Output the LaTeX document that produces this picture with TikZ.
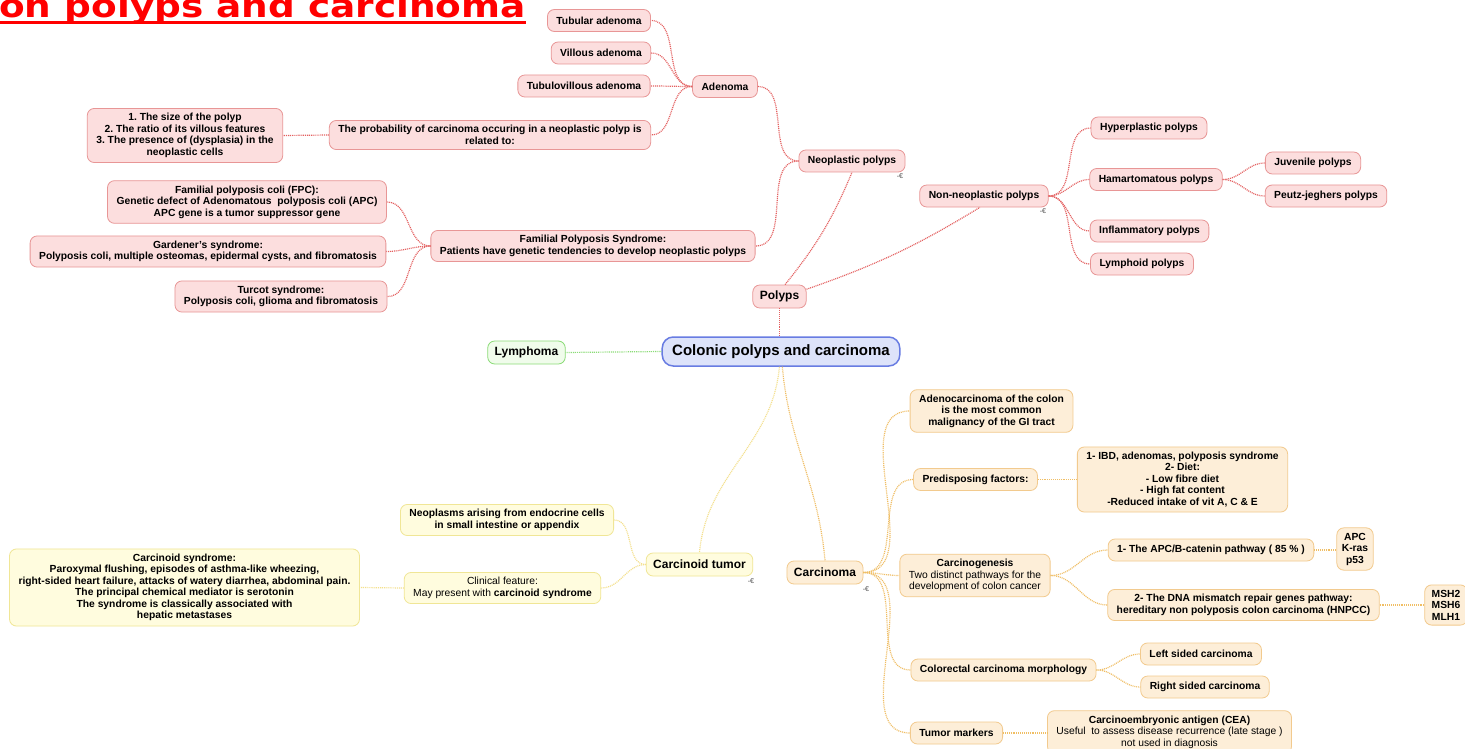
\documentclass[tikz,border=0pt]{standalone}
\usepackage{fontspec}
\setmainfont{Liberation Sans}
\newfontfamily\titlefont{DejaVu Sans}
\definecolor{polfill}{RGB}{252,222,222}
\definecolor{poldraw}{RGB}{232,150,150}
\definecolor{pollink}{RGB}{228,96,96}
\definecolor{cenfill}{RGB}{221,227,250}
\definecolor{cendraw}{RGB}{104,124,226}
\definecolor{lymfill}{RGB}{240,252,235}
\definecolor{lymdraw}{RGB}{140,220,120}
\definecolor{cidfill}{RGB}{255,252,222}
\definecolor{ciddraw}{RGB}{240,230,150}
\definecolor{cidlink}{RGB}{244,224,140}
\definecolor{carfill}{RGB}{253,238,216}
\definecolor{cardraw}{RGB}{242,202,142}
\definecolor{carlink}{RGB}{240,190,100}
\begin{document}
\begin{tikzpicture}[
		x = 1pt, y = -1pt,
		box/.style = {rounded corners = 7pt, inner xsep = 9pt, inner ysep = 5pt, minimum height = 22pt, align = center, line width = 0.8pt, font = \bfseries\fontsize{10.3}{11.5}\selectfont},
		lvlone/.style = {inner xsep = 7pt, minimum height = 23pt, font = \bfseries\fontsize{12}{14}\selectfont},
		pbox/.style = {box, fill = polfill, draw = poldraw},
		gbox/.style = {box, fill = lymfill, draw = lymdraw},
		ybox/.style = {box, fill = cidfill, draw = ciddraw},
		obox/.style = {box, fill = carfill, draw = cardraw},
		plain/.style = {font = \fontsize{10.3}{11.5}\selectfont},
		link/.style = {dash pattern = on 1pt off 0.9pt, line width = 1.2pt},
		plink/.style = {link, draw = pollink},
		glink/.style = {link, draw = lymdraw},
		ylink/.style = {link, draw = cidlink},
		olink/.style = {link, draw = carlink},
		collapse/.style = {inner sep = 0pt, text = black!70, font = \fontsize{7}{7}\selectfont}
	]
		\fill[white] (0, 0) rectangle (1465, 749);
		\useasboundingbox (0, 0) rectangle (1465, 749);
		\clip (0, 0) rectangle (1465, 749);

		\node[anchor = base west, inner sep = 0pt, text = red, xscale = 1.17, transform shape, font = \titlefont\bfseries\fontsize{32}{32}\selectfont] (title) at (-1, 18) {on polyps and carcinoma};
		\draw[red, line width = 3pt] (0, 23) -- (title.east |- 0, 23);

		\node[box, fill = cenfill, draw = cendraw, line width = 1.5pt, rounded corners = 11pt, minimum height = 29pt, inner xsep = 10pt, font = \bfseries\fontsize{15}{17}\selectfont] (central) at (781, 351.5) {Colonic polyps and carcinoma};
		\node[gbox, lvlone] (lymphoma) at (526.5, 352.5) {Lymphoma};

		\node[pbox, lvlone] (polyps) at (779.5, 296.5) {Polyps};
		\node[pbox] (neo) at (852, 161) {Neoplastic polyps};
		\node[pbox] (adenoma) at (725, 86.5) {Adenoma};
		\node[pbox] (tubular) at (599, 20.5) {Tubular adenoma};
		\node[pbox] (villous) at (601, 53) {Villous adenoma};
		\node[pbox] (tubvill) at (584, 86) {Tubulovillous adenoma};
		\node[pbox] (prob) at (490, 135) {The probability of carcinoma occuring in a neoplastic polyp is\\related to:};
		\node[pbox] (probfact) at (185, 135.5) {1.\ The size of the polyp\\2.\ The ratio of its villous features\\3.\ The presence of (dysplasia) in the\\neoplastic cells};
		\node[pbox] (familial) at (593, 246) {Familial Polyposis Syndrome:\\Patients have genetic tendencies to develop neoplastic polyps};
		\node[pbox] (fpc) at (247, 202) {Familial polyposis coli (FPC):\\Genetic defect of Adenomatous~ polyposis coli (APC)\\APC gene is a tumor suppressor gene};
		\node[pbox] (gardener) at (208, 251.5) {Gardener's syndrome:\\Polyposis coli, multiple osteomas, epidermal cysts, and fibromatosis};
		\node[pbox] (turcot) at (281, 296.5) {Turcot syndrome:\\Polyposis coli, glioma and fibromatosis};
		\node[pbox] (nonneo) at (984, 196) {Non-neoplastic polyps};
		\node[pbox] (hyper) at (1149, 128) {Hyperplastic polyps};
		\node[pbox] (hamart) at (1156, 179.5) {Hamartomatous polyps};
		\node[pbox] (juvenile) at (1313, 163) {Juvenile polyps};
		\node[pbox] (peutz) at (1326, 196) {Peutz-jeghers polyps};
		\node[pbox] (inflam) at (1149.5, 231) {Inflammatory polyps};
		\node[pbox] (lymphoid) at (1142, 264) {Lymphoid polyps};

		\node[ybox, lvlone] (carcinoid) at (699.5, 564.5) {Carcinoid tumor};
		\node[ybox] (endocrine) at (507, 520) {Neoplasms arising from endocrine cells\\in small intestine or appendix};
		\node[ybox, plain] (clinical) at (502.5, 588) {Clinical feature:\\May present with \textbf{carcinoid syndrome}};
		\node[ybox] (syndrome) at (184.5, 587.5) {Carcinoid syndrome:\\Paroxymal flushing, episodes of asthma-like wheezing,\\right-sided heart failure, attacks of watery diarrhea, abdominal pain.\\The principal chemical mediator is serotonin\\The syndrome is classically associated with\\hepatic metastases};

		\node[obox, lvlone] (carcinoma) at (825, 572.5) {Carcinoma};
		\node[obox] (adeno) at (991.5, 411) {Adenocarcinoma of the colon\\is the most common\\malignancy of the GI tract};
		\node[obox] (predisp) at (975.5, 479.5) {Predisposing factors:};
		\node[obox] (predlist) at (1182.5, 479.5) {1- IBD, adenomas, polyposis syndrome\\2- Diet:\\- Low fibre diet\\- High fat content\\-Reduced intake of vit A, C \& E};
		\node[obox, plain] (genesis) at (975, 575.5) {\textbf{Carcinogenesis}\\Two distinct pathways for the\\development of colon cancer};
		\node[obox] (apcpath) at (1211, 550) {1- The APC/B-catenin pathway ( 85 \% )};
		\node[obox, inner xsep = 5pt] (apcgenes) at (1355, 549) {APC\\K-ras\\p53};
		\node[obox] (dnapath) at (1243.5, 605) {2- The DNA mismatch repair genes pathway:\\hereditary non polyposis colon carcinoma (HNPCC)};
		\node[obox, inner xsep = 7pt] (mshgenes) at (1446, 605) {MSH2\\MSH6\\MLH1};
		\node[obox] (morph) at (1003.5, 670) {Colorectal carcinoma morphology};
		\node[obox] (leftside) at (1201, 654) {Left sided carcinoma};
		\node[obox] (rightside) at (1205, 687) {Right sided carcinoma};
		\node[obox] (markers) at (956.5, 733) {Tumor markers};
		\node[obox, plain] (cea) at (1169.5, 732) {\textbf{Carcinoembryonic antigen (CEA)}\\Useful~ to assess disease recurrence (late stage )\\not used in diagnosis};

		\node[collapse] (neomark) at (900, 176) {-€};
		\node[collapse] (nonneomark) at (1043, 211) {-€};
		\node[collapse] (carcinoidmark) at (751, 581) {-€};
		\node[collapse] (carcinomamark) at (866, 589) {-€};

		\draw[glink] (central.west) -- (lymphoma.east);
		\draw[plink] (polyps.south) -- (polyps.south |- central.north);
		\draw[plink] (polyps.65) to[bend right = 8] (neo.south);
		\draw[plink] (polyps.15) to[bend right = 6] (nonneo.-110);
		\draw[plink] (neo.west) to[out = 180, in = 0] (adenoma.east);
		\draw[plink] (neo.west) to[out = 180, in = 0] (familial.east);
		\foreach \c in {tubular, villous, tubvill, prob}
			\draw[plink] (adenoma.west) to[out = 180, in = 0] (\c.east);
		\draw[plink] (prob.west) -- (probfact.east);
		\foreach \c in {fpc, gardener, turcot}
			\draw[plink] (familial.west) to[out = 180, in = 0] (\c.east);
		\foreach \c in {hyper, hamart, inflam, lymphoid}
			\draw[plink] (nonneo.east) to[out = 0, in = 180] (\c.west);
		\foreach \c in {juvenile, peutz}
			\draw[plink] (hamart.east) to[out = 0, in = 180] (\c.west);

		\draw[ylink] (central.-96) to[out = -95, in = 85] (carcinoid.north);
		\foreach \c in {endocrine, clinical}
			\draw[ylink] (carcinoid.west) to[out = 180, in = 0] (\c.east);
		\draw[ylink] (clinical.west) -- (syndrome.east);

		\draw[olink] (central.-85) to[out = -85, in = 95] (carcinoma.north);
		\foreach \c in {adeno, predisp, genesis, morph, markers}
			\draw[olink] (carcinoma.east) to[out = 0, in = 180] (\c.west);
		\draw[olink] (predisp.east) -- (predlist.west);
		\foreach \c in {apcpath, dnapath}
			\draw[olink] (genesis.east) to[out = 0, in = 180] (\c.west);
		\draw[olink] (apcpath.east) -- (apcpath.east -| apcgenes.west);
		\draw[olink] (dnapath.east) -- (dnapath.east -| mshgenes.west);
		\foreach \c in {leftside, rightside}
			\draw[olink] (morph.east) to[out = 0, in = 180] (\c.west);
		\draw[olink] (markers.east) -- (markers.east -| cea.west);
	\end{tikzpicture}
\end{document}
